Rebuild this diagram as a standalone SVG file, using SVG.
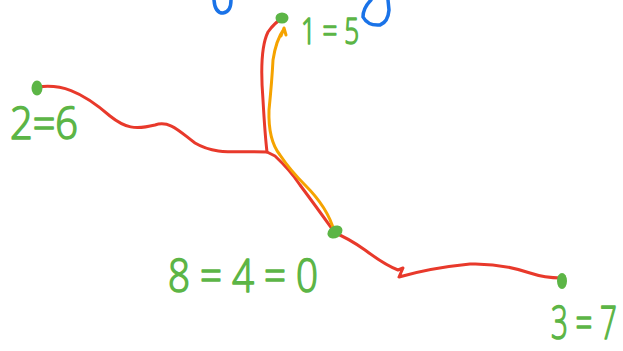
<svg xmlns="http://www.w3.org/2000/svg" width="623" height="351" viewBox="0 0 623 351">
<style>
.red{fill:none;stroke:#e8392b;stroke-width:3;stroke-linecap:round;stroke-linejoin:round}
.org{fill:none;stroke:#f5a300;stroke-width:3;stroke-linecap:round;stroke-linejoin:round}
.blue{fill:none;stroke:#1a73e8;stroke-width:3.5;stroke-linecap:round;stroke-linejoin:round}
.node{fill:#5cb546}
.lbl{fill:#5cb546;stroke:#5cb546;stroke-width:1.6;stroke-linejoin:round;font-family:"Open Sans","Liberation Sans",sans-serif;font-weight:300}
</style>
<rect width="623" height="351" fill="#fff"/>
<g id="sketch-blue">
<path class="blue" d="M214,0 Q215,13 223,13 Q231,12 231,0"/>
<path class="blue" d="M371,0 Q363,8 363,17 Q368,26 380,25 Q388,22 389,10 L388,0"/>
</g>
<g id="connectors">
<path class="red" d="M38,87 C60,84 80,90 110,116 C125,128 135,130 155,125 C170,120 180,132 195,143 C215,155 235,151 267,152"/>
<path class="red" d="M282,19 Q275,22 268,32 Q259,50 263,100 Q265,135 267,152 L275,156 Q290,170 300,185 Q315,205 335,233 Q348,238 365,250 Q385,265 398,270 L403,268 L399,277 Q430,268 470,264 Q500,263 530,273 Q545,278 561,278"/>
<path class="org" d="M334,231 Q328,208 305,185 Q290,170 280,155 Q268,140 269,110 Q272,80 273,60 Q276,40 284,29 M281,36 L284,28 L286,35"/>
</g>
<g id="node-1"><ellipse class="node" cx="282" cy="18" rx="6.5" ry="5.5"/>
<text class="lbl" x="301" y="44" font-size="36" textLength="58" lengthAdjust="spacingAndGlyphs">1 = 5</text></g>
<g id="node-2"><ellipse class="node" cx="37" cy="88" rx="5.5" ry="7.5"/>
<text class="lbl" x="10" y="139" font-size="44" textLength="68" lengthAdjust="spacingAndGlyphs">2=6</text></g>
<g id="node-4"><ellipse class="node" cx="335" cy="232" rx="8" ry="6" transform="rotate(-30 335 232)"/>
<text class="lbl" x="168" y="292" font-size="46" textLength="150" lengthAdjust="spacingAndGlyphs">8 = 4 = 0</text></g>
<g id="node-3"><ellipse class="node" cx="562" cy="281" rx="5" ry="8"/>
<text class="lbl" transform="translate(551 339) scale(0.64 1)" x="0" y="0" font-size="46" stroke-width="2.2">3 = 7</text></g>
</svg>
